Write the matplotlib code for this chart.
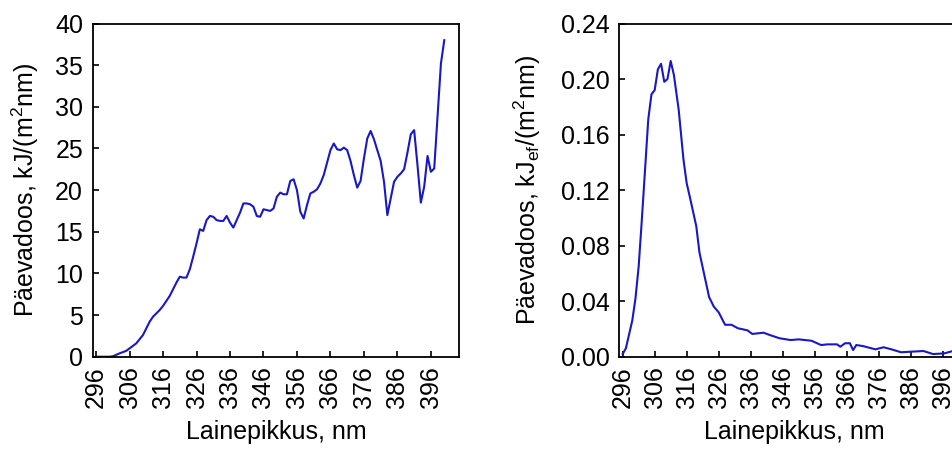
#!/usr/bin/env python3
"""
Daily UV dose spectra: plain irradiance dose (left) and erythemally
weighted dose (right) against wavelength.
"""

import matplotlib
matplotlib.use('Agg')
import matplotlib.pyplot as plt
from matplotlib.ticker import FormatStrFormatter

# Left panel: daily dose, kJ/(m2 nm)
wl_dose = [296, 300, 301, 303, 305, 306, 308, 309, 310, 311, 312, 313, 315,
           316, 317, 318, 319, 320, 321, 322, 323, 324, 325, 326, 327, 328,
           329, 330, 331, 332, 333, 334, 335, 336, 337, 338, 339, 340, 341,
           342, 343, 344, 345, 346, 347, 348, 349, 350, 351, 352, 353, 354,
           355, 356, 357, 358, 359, 360, 361, 362, 363, 364, 365, 366, 367,
           368, 369, 370, 371, 372, 373, 374, 375, 376, 377, 378, 379, 380,
           381, 382, 383, 384, 385, 386, 387, 388, 389, 390, 391, 392, 393,
           394, 395, 396, 397, 399, 400]
dose = [0.0, 0.0, 0.05, 0.4, 0.7, 1.0, 1.6, 2.1, 2.6, 3.4, 4.2, 4.8, 5.6,
        6.1, 6.7, 7.3, 8.1, 8.9, 9.6, 9.5, 9.5, 10.5, 12.0, 13.6, 15.3, 15.1,
        16.4, 16.9, 16.8, 16.4, 16.3, 16.3, 16.9, 16.1, 15.5, 16.4, 17.3, 18.4,
        18.4, 18.3, 18.0, 16.9, 16.8, 17.7, 17.6, 17.5, 17.8, 19.2, 19.7, 19.5,
        19.5, 21.1, 21.3, 20.0, 17.4, 16.6, 18.2, 19.6, 19.8, 20.1, 20.8, 21.8,
        23.3, 24.8, 25.6, 24.9, 24.8, 25.1, 24.8, 23.5, 21.8, 20.3, 21.1, 23.8,
        26.2, 27.1, 26.1, 24.8, 23.5, 21.0, 17.0, 19.0, 21.0, 21.6, 22.0, 22.5,
        24.5, 26.7, 27.2, 23.0, 18.5, 20.4, 24.1, 22.2, 22.6, 35.2, 38.0]

# Right panel: erythemally effective daily dose, kJef/(m2 nm)
wl_eff = [296, 297, 299, 300, 301, 302, 303, 304, 305, 306, 307, 308, 309,
          310, 311, 312, 313.5, 315, 316, 317, 319, 320, 323, 324.5, 326,
          328, 330, 332, 335, 336.5, 340, 342, 345, 348.5, 351, 355, 358,
          360, 363, 364, 365.5, 367, 368, 369, 371, 375, 377.5, 380, 383,
          386, 390, 393, 396.5, 399.5]
dose_eff = [0.002, 0.006, 0.026, 0.042, 0.065, 0.099, 0.135, 0.171, 0.189,
            0.192, 0.207, 0.211, 0.198, 0.200, 0.213, 0.203, 0.178, 0.142,
            0.125, 0.115, 0.094, 0.075, 0.043, 0.036, 0.032, 0.023, 0.023,
            0.0205, 0.019, 0.0164, 0.0173, 0.0156, 0.0133, 0.012, 0.0125,
            0.0115, 0.0084, 0.0089, 0.0089, 0.0072, 0.0097, 0.0097, 0.0048,
            0.0084, 0.0077, 0.0053, 0.0068, 0.0053, 0.0032, 0.0036, 0.0041,
            0.0019, 0.0024, 0.0043]

xticks = list(range(296, 400, 10))

plt.rcParams['font.family'] = ['Liberation Sans', 'DejaVu Sans']
plt.rcParams['mathtext.fontset'] = 'custom'
plt.rcParams['mathtext.rm'] = 'Liberation Sans'
plt.rcParams['mathtext.it'] = 'Liberation Sans:italic'
plt.rcParams['font.size'] = 18

fig = plt.figure(figsize=(9.52, 4.54), dpi=100)
# the right panel runs past the figure edge, as in the cropped original
ax1 = fig.add_axes([0.0974, 0.2143, 0.3851, 0.7339])
ax2 = fig.add_axes([0.6507, 0.2143, 0.3681, 0.7339])

line_color = '#1818C4'
ax1.plot(wl_dose, dose, color=line_color, lw=1.5)
ax2.plot(wl_eff, dose_eff, color=line_color, lw=1.5)

for ax in (ax1, ax2):
    ax.set_xlim(295, 404.5)
    ax.set_xticks(xticks)
    ax.tick_params(axis='x', rotation=90)
    ax.tick_params(direction='in', length=4, width=1.2, labelsize=18)
    ax.tick_params(axis='y', pad=7)
    ax.tick_params(axis='x', pad=7)
    for s in ax.spines.values():
        s.set_linewidth(1.3)
    ax.set_xlabel('Lainepikkus, nm', fontsize=18)
    ax.xaxis.set_label_coords(0.5, -0.19)

ax1.set_ylim(0, 40)
ax1.set_yticks(range(0, 41, 5))
ax1.set_ylabel('Päevadoos, kJ/(m$^2$nm)', fontsize=18)
ax1.yaxis.set_label_coords(-0.141, 0.5)

ax2.set_ylim(0, 0.24)
ax2.set_yticks([0.0, 0.04, 0.08, 0.12, 0.16, 0.20, 0.24])
ax2.yaxis.set_major_formatter(FormatStrFormatter('%.2f'))
ax2.set_ylabel(r'Päevadoos, kJ$_{\mathrm{ef}}$/(m$^2$nm)', fontsize=18)
ax2.yaxis.set_label_coords(-0.218, 0.5)

fig.savefig('out.png', dpi=100)
